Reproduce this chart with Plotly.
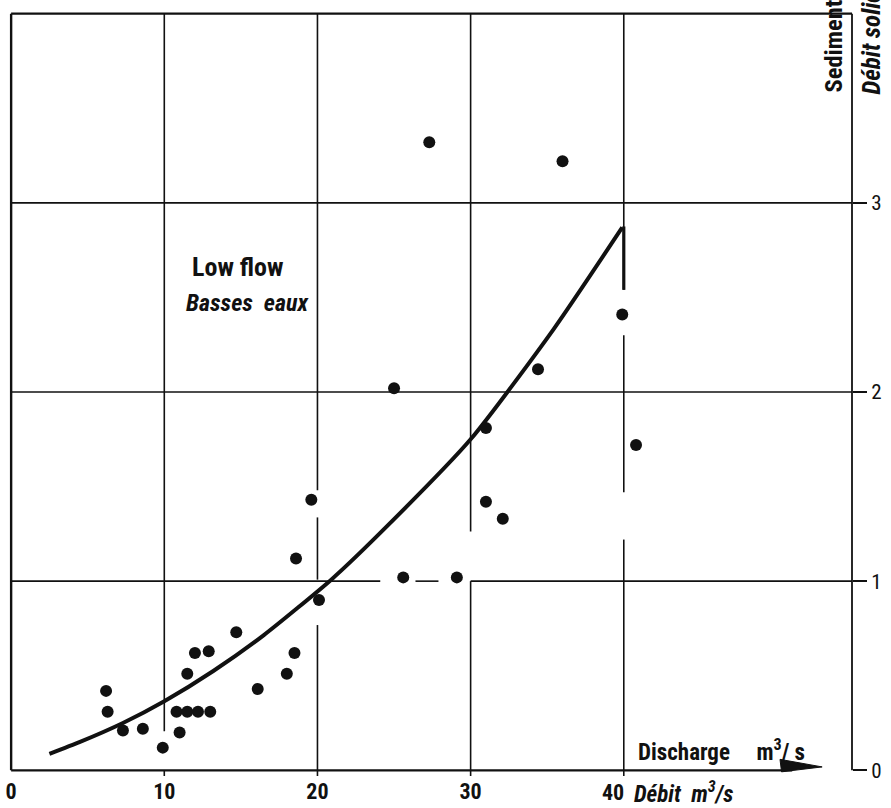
import plotly.graph_objects as go

# Low-flow observations: water discharge (m3/s) and sediment discharge
discharge = [6.2, 6.3, 7.3, 8.6, 9.9, 11.0, 10.8, 11.5, 12.2, 13.0,
             11.5, 12.0, 12.9, 14.7, 16.1, 18.0, 18.5, 20.1, 18.6, 19.6,
             25.6, 29.1, 25.0, 34.4, 31.0, 31.0, 32.1, 40.8, 27.3, 36.0, 39.9]
sediment = [0.42, 0.31, 0.21, 0.22, 0.12, 0.20, 0.31, 0.31, 0.31, 0.31,
            0.51, 0.62, 0.63, 0.73, 0.43, 0.51, 0.62, 0.90, 1.12, 1.43,
            1.02, 1.02, 2.02, 2.12, 1.81, 1.42, 1.33, 1.72, 3.32, 3.22, 2.41]

# Hand-drawn rating curve
curve_discharge = [2.5, 4.5, 7.3, 10.0, 13.2, 16.5, 20.9, 24.1, 30.0, 35.4, 39.9]
curve_sediment = [0.087, 0.15, 0.25, 0.365, 0.525, 0.715, 1.008, 1.255, 1.75, 2.33, 2.87]

# Axis ticks
x_ticks = [0, 10, 20, 30]
x_tick_text = ["0", "10", "20", "30"]
y_ticks = [0, 1, 2, 3]
y_tick_text = ["0", "1", "2", "3"]

# ---------------------------------------------------------------- layout
W, H = 891, 808
ML, MR, MT, MB = 5, 39, 8, 32
X_RANGE = [-0.4, 54.9]
Y_RANGE = [-0.03, 4.03]
X_END = 54.9      # right-hand (sediment) axis
Y_TOP = 4.0       # frame top
PW, PH = W - ML - MR, H - MT - MB

FONT = "Roboto Condensed, Liberation Sans Narrow, Roboto, sans-serif"
INK = "#111111"


def px(xp):
    """page pixel -> paper x"""
    return (xp - ML) / PW


def py(yp):
    """page pixel -> paper y"""
    return (H - MB - yp) / PH


fig = go.Figure()

fig.add_trace(go.Scatter(
    x=curve_discharge, y=curve_sediment, mode="lines",
    line=dict(color=INK, width=4, shape="spline", smoothing=0.6),
    hoverinfo="skip", cliponaxis=False,
))
fig.add_trace(go.Scatter(
    x=discharge, y=sediment, mode="markers",
    marker=dict(color=INK, size=12, line=dict(width=0)),
    cliponaxis=False,
))

shapes = []


def seg(x0, y0, x1, y1, w=1.6, xref="x"):
    shapes.append(dict(type="line", xref=xref, yref="y", x0=x0, y0=y0, x1=x1, y1=y1,
                       line=dict(color=INK, width=w), layer="below"))


# vertical grid lines, drawn in pieces (broken around nearby points)
v_grid = {
    10: [(-0.03, 0.0), (0.206, Y_TOP)],
    20: [(-0.03, 0.768), (1.008, 1.337), (1.48, Y_TOP)],
    30: [(-0.03, 1.0), (1.263, Y_TOP)],
    40: [(-0.03, 1.22), (1.47, 2.30), (2.54, Y_TOP)],
}
for xv, pieces in v_grid.items():
    for a, b in pieces:
        seg(xv, a, xv, b)
seg(40, 2.54, 40, 2.875, w=3.2)

# horizontal grid lines
h_grid = {
    1: [(0, 24.1), (26.4, 27.9), (30, X_END)],
    2: [(0, X_END)],
    3: [(0, X_END)],
}
for yv, pieces in h_grid.items():
    for a, b in pieces:
        seg(a, yv, b, yv)

# frame: left edge, top edge, right axis, discharge axis with arrow
seg(0, 0, 0, Y_TOP, w=2.4)
seg(0, Y_TOP, X_END, Y_TOP, w=2.2)
seg(1, 0, 1, Y_TOP, w=1.8, xref="paper")
seg(0, 0, 51.0, 0, w=2.2)
shapes.append(dict(
    type="path", xref="x", yref="y",
    path="M 50.2,0.058 L 52.95,0.018 L 50.3,-0.008 Z",
    fillcolor=INK, line=dict(color=INK, width=1), layer="above",
))

B = "bold"
NB = "\u00a0"
annotations = [
    dict(text="Low flow", x=px(190), y=py(267), xanchor="left", yanchor="middle",
         font=dict(size=26, weight=B)),
    dict(text="Basses" + NB + " eaux", x=px(184), y=py(303), xanchor="left",
         yanchor="middle", font=dict(size=24, weight=B, style="italic")),
    dict(text="Discharge" + NB * 5 + "m<sup>3</sup>/" + NB + "s", x=px(636),
         y=py(750), xanchor="left", yanchor="middle", font=dict(size=23, weight=B)),
    dict(text="40", xref="x", x=40.15, y=py(792), xanchor="right", yanchor="middle",
         font=dict(size=22, weight=B)),
    dict(text="Débit" + NB * 2 + "m<sup>3</sup>/s", x=px(632), y=py(792),
         xanchor="left", yanchor="middle", font=dict(size=23, weight=B, style="italic")),
    dict(text="Sediment discharge", x=px(833), y=py(95), xanchor="center",
         yanchor="bottom", textangle=-90, font=dict(size=24.5, weight=B)),
    dict(text="Débit solide", x=px(871), y=py(97), xanchor="center",
         yanchor="bottom", textangle=-90, font=dict(size=25, weight=B, style="italic")),
]
for a in annotations:
    a.setdefault("xref", "paper")
    a["yref"] = "paper"
    a["showarrow"] = False
    a["font"].update(family=FONT, color=INK)

fig.update_layout(
    width=W, height=H,
    margin=dict(l=ML, r=MR, t=MT, b=MB, pad=0, autoexpand=False),
    paper_bgcolor="white", plot_bgcolor="white",
    showlegend=False,
    shapes=shapes,
    annotations=annotations,
    xaxis=dict(range=X_RANGE, showgrid=False, zeroline=False, showline=False,
               automargin=False,
               tickvals=x_ticks, ticktext=x_tick_text, ticks="", ticklabelstandoff=0,
               tickfont=dict(family=FONT, size=22, color=INK, weight="bold")),
    yaxis=dict(range=Y_RANGE, side="right", showgrid=False, zeroline=False, showline=False,
               automargin=False,
               tickvals=y_ticks, ticktext=y_tick_text, ticks="outside", ticklen=14,
               tickwidth=1.6, tickcolor=INK,
               tickfont=dict(family=FONT, size=21, color=INK)),
)

fig.write_html("out.html", include_plotlyjs=True, config=dict(displayModeBar=False))
